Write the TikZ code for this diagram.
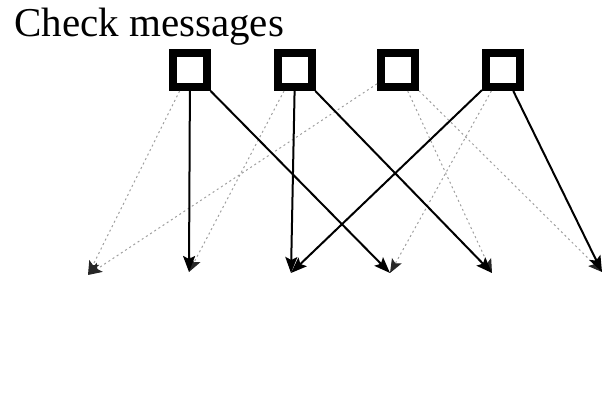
\documentclass[tikz,border=0pt]{standalone}
\usepackage{fontspec}
\setmainfont{Liberation Serif}
\usetikzlibrary{arrows.meta}
\begin{document}
\begin{tikzpicture}[x=1pt,y=-1pt,
  checkbox/.style={draw=black,line width=8pt,fill=white,inner sep=0pt,minimum size=34pt},
  msg/.style={line width=2pt,-{Stealth[length=16pt,width=12pt,inset=3pt]}},
  weakmsg/.style={line width=1pt,gray!75,dash pattern=on 2pt off 3pt,
    -{Stealth[length=14pt,width=11pt,inset=3pt,black!85]}}]
  \useasboundingbox (0,0) rectangle (604,406);

  % title
  \node[anchor=base west,inner sep=0pt,font=\fontsize{41}{46}\selectfont] (title) at (14,37) {Check messages};

  % check nodes
  \node[checkbox] (b1) at (190,70) {};
  \node[checkbox] (b2) at (295,70) {};
  \node[checkbox] (b3) at (398,70) {};
  \node[checkbox] (b4) at (503,70) {};

  % message targets
  \coordinate (t1) at (88,275);
  \coordinate (t2) at (189,272);
  \coordinate (t3) at (291,273);
  \coordinate (t4) at (390,273);
  \coordinate (t5) at (492,273);
  \coordinate (t6) at (602,272);

  % weak messages
  \draw[weakmsg] (b1) -- (t1);
  \draw[weakmsg] (b2) -- (t2);
  \draw[weakmsg] (b3) -- (t1);
  \draw[weakmsg] (b3) -- (t5);
  \draw[weakmsg] (b3) -- (t6);
  \draw[weakmsg] (b4) -- (t4);

  % strong messages
  \draw[msg] (b1) -- (t2);
  \draw[msg] (b1) -- (t4);
  \draw[msg] (b2) -- (t3);
  \draw[msg] (b2) -- (t5);
  \draw[msg] (b4) -- (t3);
  \draw[msg] (b4) -- (t6);
\end{tikzpicture}
\end{document}
